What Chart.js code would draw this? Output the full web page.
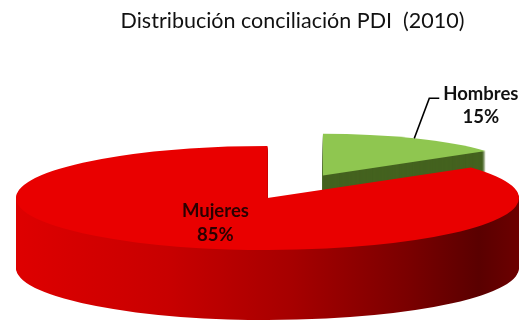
<!DOCTYPE html>
<html lang="es">
<head>
<meta charset="utf-8">
<script src="https://cdn.jsdelivr.net/npm/chart.js@4.4.1/dist/chart.umd.min.js"></script>
<style>
  html, body { margin: 0; padding: 0; background: #fff; }
  #marco { position: relative; width: 527px; height: 326px; }
  #titulo {
    position: absolute; top: 7px; left: 0; width: 527px;
    padding-left: 58px; box-sizing: border-box; text-align: center;
    font-family: Lato, sans-serif; font-size: 21.5px; line-height: 26px;
    color: #111; white-space: pre;
  }
  #grafico { position: absolute; top: 0; left: 0; }
</style>
</head>
<body>
<div id="marco">
  <canvas id="grafico" width="527" height="326"></canvas>
  <div id="titulo">Distribución conciliación PDI  (2010)</div>
</div>
<script>
// datos
var categorias = ['Hombres', 'Mujeres'];
var valores = [15, 85];

// colores de la cara superior y del lateral de cada porción
var coloresCara = ['#8fc650', '#e90000'];
var coloresLado = ['#44621f', null];

// tarta en 3D: aplana la tarta de Chart.js en una elipse y le da grosor
var tarta3d = {
  id: 'tarta3d',
  geometria: function (chart, opts) {
    var arcs = chart.getDatasetMeta(0).data;
    var area = chart.chartArea;
    var R = arcs[0].outerRadius;
    var sx = (area.width / 2) / R;
    return { arcs: arcs, R: R, sx: sx, sy: sx * opts.inclinacion, cx: arcs[0].x, cy: arcs[0].y };
  },
  beforeDatasetsDraw: function (chart, args, opts) {
    var ctx = chart.ctx;
    var g = this.geometria(chart, opts);
    g.arcs.forEach(function (arc, i) {
      var esc = opts.escala[i];
      var medio = (arc.startAngle + arc.endAngle) / 2;
      var off = arc.options.offset || 0;
      var ox = Math.cos(medio) * off, oy = Math.sin(medio) * off;
      var prof = Math.round(opts.profundidad * esc);
      var camino = function () {
        ctx.beginPath();
        ctx.moveTo(ox, oy);
        ctx.arc(ox, oy, g.R * esc, arc.startAngle, arc.endAngle);
        ctx.closePath();
      };
      var lado = coloresLado[i];
      if (!lado) {
        lado = ctx.createLinearGradient(-g.R, 0, g.R, 0);
        lado.addColorStop(0, '#de0000');
        lado.addColorStop(0.3, '#c80000');
        lado.addColorStop(0.55, '#a60000');
        lado.addColorStop(0.78, '#7a0000');
        lado.addColorStop(0.92, '#5a0000');
        lado.addColorStop(1, '#6c0000');
      }
      // lateral: copias desplazadas hacia abajo
      for (var dz = prof; dz >= 1; dz--) {
        ctx.save();
        ctx.translate(g.cx, g.cy + dz);
        ctx.scale(g.sx, g.sy);
        ctx.fillStyle = lado;
        camino();
        ctx.fill();
        ctx.restore();
      }
      // cara superior
      ctx.save();
      ctx.translate(g.cx, g.cy);
      ctx.scale(g.sx, g.sy);
      ctx.fillStyle = arc.options.backgroundColor;
      camino();
      ctx.fill();
      ctx.restore();
    });
    return false;
  },
  afterDraw: function (chart, args, opts) {
    var ctx = chart.ctx;
    var g = this.geometria(chart, opts);
    ctx.save();
    ctx.font = 'bold 18.5px Lato, sans-serif';
    ctx.textAlign = 'center';
    ctx.textBaseline = 'middle';
    g.arcs.forEach(function (arc, i) {
      var conf = opts.etiquetas[i];
      var esc = opts.escala[i];
      var medio = (arc.startAngle + arc.endAngle) / 2;
      var off = arc.options.offset || 0;
      var lineas = [categorias[i], valores[i] + '%'];
      var punto = function (f) {
        var px = Math.cos(medio) * (off + g.R * esc * f);
        var py = Math.sin(medio) * (off + g.R * esc * f);
        return [g.cx + px * g.sx, g.cy + py * g.sy];
      };
      if (conf.tipo === 'dentro') {
        var p = punto(conf.f);
        ctx.fillStyle = conf.color;
        ctx.fillText(lineas[0], p[0] + 5, p[1] + 2 - conf.interlinea / 2);
        ctx.fillText(lineas[1], p[0] + 5, p[1] + 2 + conf.interlinea / 2);
      } else {
        var a = punto(1);
        var b = [a[0] + conf.codo[0], a[1] + conf.codo[1]];
        var c = [b[0] + conf.cola, b[1]];
        ctx.strokeStyle = '#000';
        ctx.lineWidth = 1.5;
        ctx.beginPath();
        ctx.moveTo(a[0], a[1]);
        ctx.lineTo(b[0], b[1]);
        ctx.lineTo(c[0], c[1]);
        ctx.stroke();
        var ancho = Math.max(ctx.measureText(lineas[0]).width, ctx.measureText(lineas[1]).width);
        var x = c[0] + 4 + ancho / 2;
        ctx.fillStyle = conf.color;
        ctx.fillText(lineas[0], x, b[1] - 4);
        ctx.fillText(lineas[1], x, b[1] - 4 + conf.interlinea);
      }
    });
    ctx.restore();
  }
};

var ctx = document.getElementById('grafico').getContext('2d');
var grafico = new Chart(ctx, {
  type: 'pie',
  data: {
    labels: categorias,
    datasets: [{
      data: valores,
      backgroundColor: coloresCara,
      borderWidth: 0,
      offset: [50, 0]
    }]
  },
  options: {
    responsive: false,
    animation: false,
    events: [],
    layout: { padding: { top: 70, bottom: 0, left: 16, right: 8 } },
    plugins: {
      legend: { display: false },
      tooltip: { enabled: false },
      tarta3d: {
        inclinacion: 0.207,
        profundidad: 70,
        escala: [0.8, 1],
        etiquetas: [
          { tipo: 'fuera', codo: [15, -40], cola: 10, interlinea: 23, color: '#111' },
          { tipo: 'dentro', f: 0.5, interlinea: 24, color: '#2a0000' }
        ]
      }
    }
  },
  plugins: [tarta3d]
});
</script>
</body>
</html>
